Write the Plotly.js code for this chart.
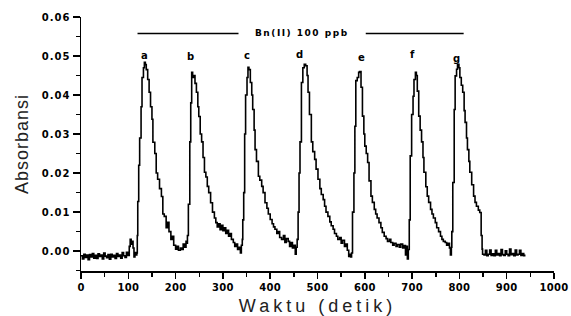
<!DOCTYPE html>
<html>
<head>
<meta charset="utf-8">
<script src="https://cdn.plot.ly/plotly-3.0.1.min.js"></script>
<style>
  html, body { margin: 0; padding: 0; background: #fff; }
  #chart { width: 571px; height: 316px; }
  .xtitle { letter-spacing: 4px; }
  .ytitle { letter-spacing: 1px; }
  .ytick text { letter-spacing: 1px; }
  .xtick text { letter-spacing: 0.3px; }
  .annotation-text { letter-spacing: 1.5px; }
</style>
</head>
<body>
<div id="chart"></div>
<script>
// Time (s)
const timeSec = [
  0,3,6,9,12,15,18,21,24,27,30,33,36,39,42,45,48,51,54,57,60,63,66,69,72,75,78,81,84,87,90,93,96,99,102,104,106,108,110,112,114,116,118,
  119,120,122,124,127,129,132,134,136,138,141,144,147,150,152,156,159,162,166,170,173,176,180,183,186,190,193,196,200,203,206,210,213,216,219,222,224,
  225,227,230,232,234,236,238,241,244,247,249,252,255,258,261,264,267,270,274,278,282,285,288,291,294,297,300,303,306,309,312,315,318,322,325,328,331,334,337,339,341,
  342,344,346,348,351,353,355,358,361,363,366,368,371,375,378,382,385,389,393,396,400,404,407,410,414,417,420,424,428,431,434,438,441,444,447,450,453,455,457,
  459,461,463,466,469,472,475,478,480,483,487,490,494,497,501,505,508,512,515,518,522,526,529,533,536,540,543,547,550,553,557,560,563,566,568,570,572,
  574,577,579,581,584,587,589,592,595,598,600,603,606,609,613,616,620,623,626,630,634,637,641,645,648,652,655,659,662,666,669,673,676,680,683,686,688,690,692,
  694,696,699,702,704,707,709,711,714,717,720,723,725,729,732,735,739,742,745,749,752,756,760,763,766,770,773,776,779,781,783,
  784,786,789,791,794,796,799,801,804,807,810,812,815,817,820,822,826,830,833,836,840,843,846,848,849,
  852,855,858,861,864,867,870,873,876,879,882,885,888,891,894,897,900,903,906,909,912,915,918,921,924,927,930,933,936,938
];
// Absorbance
const absorbansi = [
  -0.0012,-0.0020,-0.0008,-0.0016,-0.0010,-0.0022,-0.0009,-0.0015,-0.0006,-0.0018,-0.0011,-0.0019,-0.0007,-0.0014,-0.0010,-0.0020,-0.0005,-0.0013,-0.0017,-0.0009,-0.0021,-0.0008,-0.0015,-0.0011,-0.0019,-0.0006,-0.0014,-0.0010,-0.0018,-0.0004,-0.0012,-0.0016,-0.0003,-0.0011,0.0012,0.0030,0.0018,0.0025,0.0008,-0.0015,-0.0004,-0.0010,-0.0005,
  0.0040,0.0127,0.0220,0.0290,0.0370,0.0445,0.0470,0.0484,0.0478,0.0465,0.0440,0.0407,0.0370,0.0338,0.0279,0.0250,0.0200,0.0184,0.0160,0.0140,0.0095,0.0089,0.0060,0.0074,0.0050,0.0030,0.0038,0.0015,0.0005,0.0012,0.0002,0.0008,0.0004,0.0018,0.0010,0.0025,0.0020,
  0.0040,0.0120,0.0280,0.0380,0.0458,0.0445,0.0450,0.0430,0.0407,0.0370,0.0345,0.0300,0.0280,0.0240,0.0202,0.0190,0.0166,0.0150,0.0124,0.0100,0.0085,0.0073,0.0062,0.0070,0.0055,0.0066,0.0052,0.0060,0.0045,0.0053,0.0038,0.0045,0.0030,0.0022,0.0012,0.0018,0.0004,0.0010,-0.0005,0.0015,0.0030,
  0.0080,0.0150,0.0300,0.0400,0.0445,0.0471,0.0465,0.0432,0.0400,0.0363,0.0310,0.0260,0.0230,0.0192,0.0182,0.0166,0.0150,0.0124,0.0110,0.0095,0.0081,0.0070,0.0062,0.0056,0.0045,0.0050,0.0035,0.0030,0.0040,0.0022,0.0032,0.0025,0.0012,0.0022,0.0008,0.0015,-0.0008,0.0010,0.0030,
  0.0100,0.0200,0.0280,0.0432,0.0470,0.0479,0.0475,0.0450,0.0407,0.0350,0.0280,0.0255,0.0235,0.0210,0.0184,0.0160,0.0145,0.0132,0.0115,0.0100,0.0089,0.0075,0.0065,0.0056,0.0045,0.0038,0.0030,0.0035,0.0020,0.0028,0.0012,0.0018,0.0002,-0.0014,-0.0008,-0.0015,-0.0005,
  0.0100,0.0200,0.0320,0.0437,0.0445,0.0458,0.0460,0.0420,0.0346,0.0300,0.0269,0.0250,0.0227,0.0180,0.0141,0.0125,0.0107,0.0095,0.0085,0.0073,0.0060,0.0048,0.0038,0.0032,0.0025,0.0030,0.0022,0.0015,0.0020,0.0012,0.0017,0.0010,0.0018,0.0008,0.0014,-0.0010,0.0012,-0.0020,0.0004,
  0.0080,0.0244,0.0350,0.0397,0.0440,0.0458,0.0450,0.0410,0.0346,0.0310,0.0280,0.0240,0.0202,0.0165,0.0141,0.0125,0.0107,0.0095,0.0085,0.0073,0.0060,0.0050,0.0038,0.0030,0.0025,0.0022,0.0015,0.0020,0.0008,-0.0010,0.0010,
  0.0050,0.0176,0.0363,0.0449,0.0466,0.0479,0.0470,0.0445,0.0425,0.0407,0.0360,0.0330,0.0290,0.0260,0.0230,0.0202,0.0170,0.0141,0.0125,0.0115,0.0105,0.0099,0.0040,0.0005,-0.0008,
  -0.0010,0.0002,-0.0012,-0.0008,0.0003,-0.0011,-0.0007,-0.0012,0.0002,-0.0010,-0.0006,-0.0012,0.0004,-0.0009,-0.0011,0.0001,-0.0008,-0.0012,0.0005,-0.0009,-0.0006,-0.0012,0.0003,-0.0010,-0.0008,0.0002,-0.0011,-0.0006,-0.0012,-0.0009
];
// Peak labels
const peakLabels = ['a','b','c','d','e','f','g'];
const peakLabelX = [136, 234, 351, 463, 595, 702, 797];
const peakLabelY = [0.0502, 0.0500, 0.0502, 0.0505, 0.0497, 0.0505, 0.0494];
// Concentration bracket
const bracketText = 'Bn(II) 100 ppb';
const bracketX = [119.5, 333, 602, 809];
const bracketY = 0.0558;
const xTicks = [0,100,200,300,400,500,600,700,800,900,1000];
const yTicks = [0.00,0.01,0.02,0.03,0.04,0.05,0.06];

const tickFont = {family: 'DejaVu Sans', size: 10, color: '#000', weight: 'bold'};

const annotations = peakLabels.map((t, i) => ({
  x: peakLabelX[i], y: peakLabelY[i], xref: 'x', yref: 'y', text: '<b>' + t + '</b>',
  showarrow: false, font: {family: 'DejaVu Sans', size: 10, color: '#000'}
}));
annotations.push({
  x: (bracketX[1] + bracketX[2]) / 2, y: bracketY, xref: 'x', yref: 'y',
  text: '<b>' + bracketText + '</b>', showarrow: false,
  font: {family: 'DejaVu Sans', size: 9, color: '#000'}
});

const shapes = [
  {type: 'line', xref: 'x', yref: 'y', x0: bracketX[0], x1: bracketX[1], y0: bracketY, y1: bracketY, line: {color: '#000', width: 1.5}},
  {type: 'line', xref: 'x', yref: 'y', x0: bracketX[2], x1: bracketX[3], y0: bracketY, y1: bracketY, line: {color: '#000', width: 1.5}}
];

const trace = {
  x: timeSec, y: absorbansi, type: 'scatter', mode: 'lines',
  line: {color: '#000', width: 1.6, shape: 'hv'}, hoverinfo: 'skip'
};

const layout = {
  width: 571, height: 316,
  margin: {l: 81, r: 17, t: 17, b: 45},
  paper_bgcolor: '#fff', plot_bgcolor: '#fff',
  showlegend: false,
  xaxis: {
    range: [0, 1000], tickvals: xTicks, ticktext: xTicks.map(String),
    showgrid: false, zeroline: false, showline: true, linecolor: '#000', linewidth: 1.5,
    ticks: 'outside', ticklen: 6, tickwidth: 1.5, tickcolor: '#000',
    minor: {dtick: 50, tick0: 0, ticks: 'outside', ticklen: 4, tickwidth: 1.5, tickcolor: '#000'},
    tickfont: tickFont, ticklabeloverflow: 'allow',
    title: {text: 'Waktu (detik)', font: {family: 'Liberation Sans', size: 18, color: '#222'}, standoff: 8}
  },
  yaxis: {
    range: [-0.0051, 0.06], tickvals: yTicks, ticktext: yTicks.map(v => v.toFixed(2)),
    showgrid: false, zeroline: false, showline: true, linecolor: '#000', linewidth: 1.5,
    ticks: 'outside', ticklen: 7, tickwidth: 1.5, tickcolor: '#000',
    minor: {dtick: 0.005, tick0: 0, ticks: 'outside', ticklen: 4, tickwidth: 1.5, tickcolor: '#000'},
    tickfont: tickFont, ticklabeloverflow: 'allow',
    title: {text: 'Absorbansi', font: {family: 'Liberation Sans', size: 18, color: '#222'}, standoff: 8}
  },
  annotations: annotations,
  shapes: shapes
};

Plotly.newPlot('chart', [trace], layout, {staticPlot: true, displayModeBar: false});
</script>
</body>
</html>
